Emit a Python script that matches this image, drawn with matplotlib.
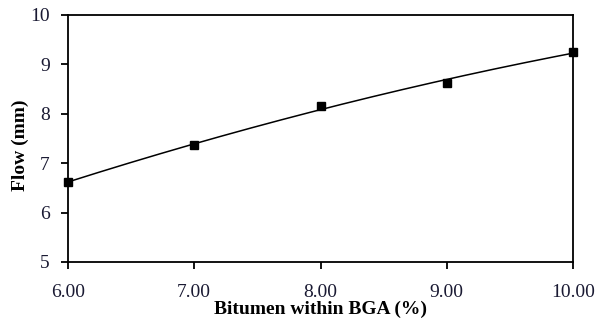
import numpy as np
import matplotlib
matplotlib.use("Agg")
import matplotlib.pyplot as plt

bitumen = [6.0, 7.0, 8.0, 9.0, 10.0]
flow = [6.62, 7.37, 8.15, 8.63, 9.25]
x_ticks = [6.0, 7.0, 8.0, 9.0, 10.0]
x_tick_labels = ["6.00", "7.00", "8.00", "9.00", "10.00"]
y_ticks = [5, 6, 7, 8, 9, 10]

plt.rcParams['font.family'] = ['Liberation Serif', 'DejaVu Serif']

fig = plt.figure(figsize=(6.08, 3.22), dpi=100)
ax = fig.add_axes([68/608, 1-262/322, (573-68)/608, (262-15)/322])

coef = np.polyfit(bitumen, flow, 2)
xs = np.linspace(min(bitumen), max(bitumen), 200)
ax.plot(xs, np.polyval(coef, xs), color='black', lw=1.1)
ax.plot(bitumen, flow, linestyle='none', marker='s', color='black',
        markersize=6.2, clip_on=False, zorder=5)

ax.set_xlim(6, 10)
ax.set_ylim(5, 10)
ax.set_xticks(x_ticks)
ax.set_xticklabels(x_tick_labels)
ax.set_yticks(y_ticks)
for s in ax.spines.values():
    s.set_linewidth(1.3)
ax.tick_params(direction='out', length=5, width=1.3, labelsize=14, colors='black')
ax.tick_params(axis='x', pad=11)
ax.tick_params(axis='y', pad=8)
for lbl in ax.get_xticklabels() + ax.get_yticklabels():
    lbl.set_color('#1a1a33')

fig.text(321/608, 1-309/322, 'Bitumen within BGA (%)', ha='center', va='center',
         fontsize=14, fontweight='bold')
fig.text(20/608, 1-145/322, 'Flow (mm)', ha='center', va='center', rotation=90,
         fontsize=14, fontweight='bold')

fig.savefig('out.png', dpi=100)
